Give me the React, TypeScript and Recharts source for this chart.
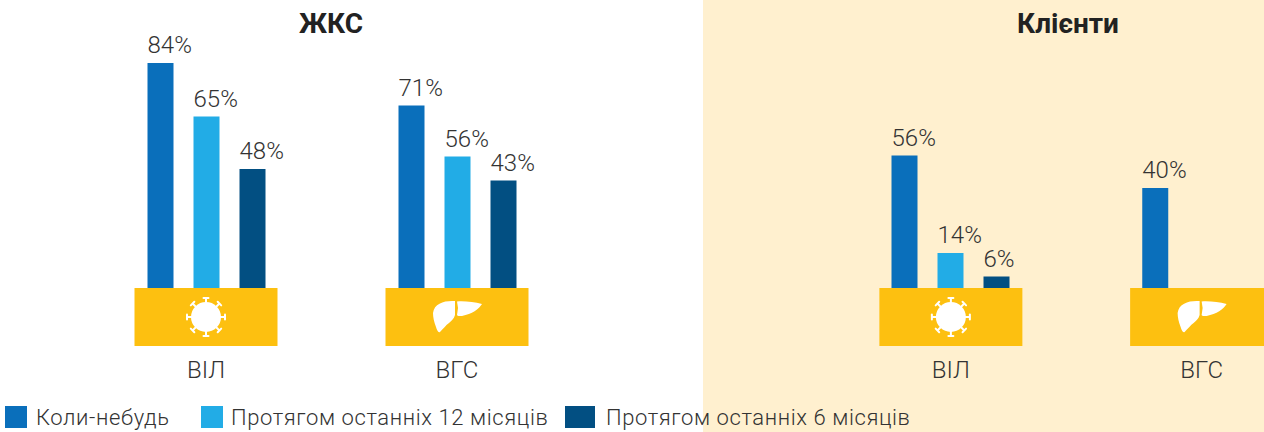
import { BarChart, Bar, XAxis, YAxis, Legend, LabelList } from 'recharts';

const categories = ['ВІЛ', 'ВГС'];
const seriesNames = ['Коли-небудь', 'Протягом останніх 12 місяців', 'Протягом останніх 6 місяців'];
const seriesColors = ['#0a6fbb', '#22ace6', '#024f82'];

// bar heights as measured in the picture: they don't follow the printed percentages exactly
const zhksEver = [90.4, 73.4];
const zhks12 = [69, 53];
const zhks6 = [48, 43.4];
const clientsEver = [53.4, 40.4];
const clients12 = [14.4, null];
const clients6 = [5, null];

// percentages as printed above the bars
const zhksEverLabels = ['84%', '71%'];
const zhks12Labels = ['65%', '56%'];
const zhks6Labels = ['48%', '43%'];
const clientsEverLabels = ['56%', '40%'];
const clients12Labels = ['14%', ''];
const clients6Labels = ['6%', ''];

const FONT = 'Roboto, sans-serif';
const TEXT = '#333';

const zhksData = categories.map((name, i) => ({
  name,
  a: zhksEver[i], b: zhks12[i], c: zhks6[i],
  aLabel: zhksEverLabels[i], bLabel: zhks12Labels[i], cLabel: zhks6Labels[i]
}));

const clientsData = categories.map((name, i) => ({
  name,
  a: clientsEver[i], b: clients12[i], c: clients6[i],
  aLabel: clientsEverLabels[i], bLabel: clients12Labels[i], cLabel: clients6Labels[i]
}));

function VirusIcon({ cx, cy }: { cx: number; cy: number }) {
  const angles = [0, 45, 90, 135, 180, 225, 270, 315];
  return (
    <g transform={`translate(${cx},${cy})`} fill="#fff">
      <circle r={15} />
      {angles.map((a) => (
        <g key={a} transform={`rotate(${a})`}>
          <rect x={-1} y={-19} width={2} height={6} />
          <rect x={-3.5} y={-20} width={7} height={2} rx={1} />
        </g>
      ))}
    </g>
  );
}

function LiverIcon({ cx, cy }: { cx: number; cy: number }) {
  return (
    <g transform={`translate(${cx},${cy})`} fill="#fff">
      <path d="M-24,-4 C-23,-13 -14,-16 -5,-16 L-2,-16 L-2,-2 C-3,2 -6,4 -8,6 C-11,8 -14,12 -17,15 C-19,16 -20,13 -21,10 C-23,5 -24,0 -24,-4 Z" />
      <path d="M0,-15.5 C8,-16 17,-15 25,-13 C22,-8 15,-3 5,-1 C2,-1 0,-1 0,-2 L1,-9 Z" />
    </g>
  );
}

function CategoryTick({ x, y, payload }: any) {
  const top = y - 1;
  const cy = top + 29;
  return (
    <g>
      <rect x={x - 71.5} y={top} width={143} height={58} fill="#fdc010" />
      {payload.value === 'ВІЛ' ? <VirusIcon cx={x} cy={cy} /> : <LiverIcon cx={x} cy={cy} />}
      <text x={x} y={top + 90} textAnchor="middle" fontFamily={FONT} fontSize={24} fontWeight={300} fill={TEXT}>
        {payload.value}
      </text>
    </g>
  );
}

const legendLefts = [5, 201, 565];
const legendWidths = [22, 22, 30];
const legendTextLefts = [36, 231, 606];

function LegendContent() {
  return (
    <div style={{ position: 'relative', width: 1264, height: 26 }}>
      {seriesNames.map((name, i) => (
        <div key={name}>
          <div style={{ position: 'absolute', left: legendLefts[i], top: 1, width: legendWidths[i], height: 22, background: seriesColors[i] }} />
          <div style={{ position: 'absolute', left: legendTextLefts[i], top: 0, fontFamily: FONT, fontSize: 22, fontWeight: 300, letterSpacing: 0.6, color: TEXT, whiteSpace: 'nowrap', lineHeight: '25px' }}>
            {name}
          </div>
        </div>
      ))}
    </div>
  );
}

// the printed percentages start at the bar's left edge
function BarLabel({ x, y, value }: any) {
  if (!value) return null;
  return (
    <text x={x} y={y - 10} textAnchor="start" fontFamily={FONT} fontSize={24} fontWeight={300} fill={TEXT}>
      {value}
    </text>
  );
}

function Panel({ data, width, marginLeft, marginRight, marginBottom, legend }: any) {
  return (
    <BarChart
      width={width}
      height={432}
      data={data}
      barSize={26}
      barGap={20}
      margin={{ top: 39, right: marginRight, left: marginLeft, bottom: marginBottom }}
      style={{ fontFamily: FONT }}
    >
      <XAxis dataKey="name" axisLine={false} tickLine={false} tickSize={0} tickMargin={0} height={60} interval={0} tick={<CategoryTick />} />
      <YAxis hide domain={[0, 100]} />
      {legend && <Legend content={<LegendContent />} wrapperStyle={{ position: 'absolute', left: 0, top: 405, width: 1264, height: 26 }} />}
      <Bar dataKey="a" name={seriesNames[0]} fill={seriesColors[0]} isAnimationActive={false}>
        <LabelList dataKey="aLabel" content={<BarLabel />} />
      </Bar>
      <Bar dataKey="b" name={seriesNames[1]} fill={seriesColors[1]} isAnimationActive={false}>
        <LabelList dataKey="bLabel" content={<BarLabel />} />
      </Bar>
      <Bar dataKey="c" name={seriesNames[2]} fill={seriesColors[2]} isAnimationActive={false}>
        <LabelList dataKey="cLabel" content={<BarLabel />} />
      </Bar>
    </BarChart>
  );
}

const titleStyle = { position: 'absolute' as const, top: 7, fontFamily: FONT, fontSize: 28, fontWeight: 700, color: '#222', textAlign: 'center' as const, transform: 'translateX(-50%)', whiteSpace: 'nowrap' as const };

export default function App() {
  return (
    <div style={{ position: 'absolute', left: 0, top: 0, width: 1264, height: 432, overflow: 'hidden', background: '#fff' }}>
      <div style={{ position: 'absolute', left: 703, top: 0, width: 561, height: 432, overflow: 'hidden', background: '#fff0cf' }}>
        <div style={{ position: 'absolute', left: 0, top: 0 }}>
          <Panel data={clientsData} width={624} marginLeft={122.5} marginRight={0} marginBottom={83} />
        </div>
      </div>
      <div style={{ position: 'absolute', left: 0, top: 0 }}>
        <Panel data={zhksData} width={1264} marginLeft={80.5} marginRight={681.5} marginBottom={57} legend />
      </div>
      <div style={{ ...titleStyle, left: 331 }}>ЖКС</div>
      <div style={{ ...titleStyle, left: 1068 }}>Клієнти</div>
    </div>
  );
}
